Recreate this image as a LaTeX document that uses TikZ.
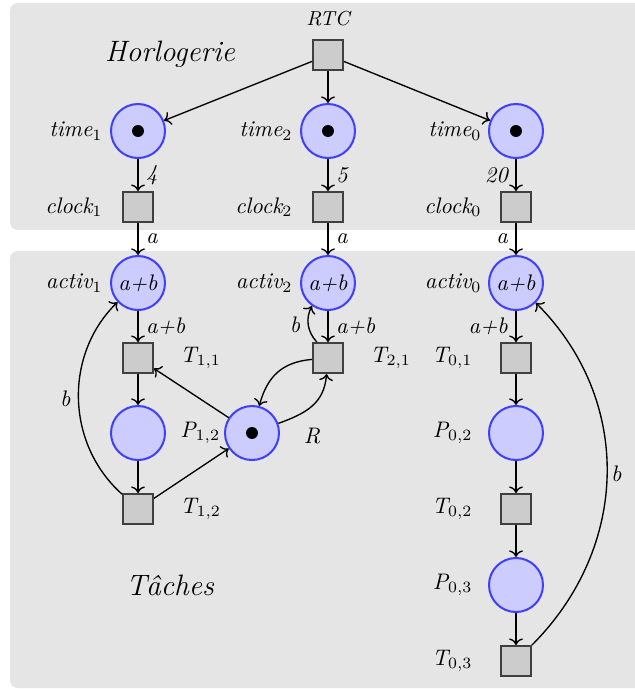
\documentclass[tikz,border=0pt]{standalone}
\usetikzlibrary{arrows.meta}
\begin{document}
\begin{tikzpicture}[x=0.4444pt,y=-0.4444pt,
  every node/.style={font=\itshape},
  place/.style={circle,draw=blue!75,fill=blue!20,line width=0.9pt,minimum size=24pt,inner sep=0pt},
  trans/.style={rectangle,draw=black!75,fill=black!20,line width=0.9pt,minimum size=13.3pt,inner sep=0pt},
  token/.style={circle,fill=black,minimum size=5.3pt,inner sep=0pt},
  arc/.style={->,semithick},
  panel/.style={fill=black!10,rounded corners=3.5pt},
  lblw/.style={anchor=east,inner sep=0pt},
  lble/.style={anchor=west,inner sep=0pt},
  title/.style={font=\fontsize{13.1}{15}\selectfont\itshape}
]
\useasboundingbox (0,0) rectangle (635,689);
\clip (0,0) rectangle (635,689);
\fill[panel] (10,3) rectangle (660,230);
\fill[panel] (10,251) rectangle (660,688);

\node[title] (horl) at (170,54) {Horlogerie};
\node[title] (taches) at (170,585) {Tâches};

% top
\node[trans] (rtc) at (328,55) {};
\node[font=\small\itshape] (rtcl) at (328,19) {RTC};

\node[place] (time1) at (138,131) {};
\node[place] (time2) at (328,131) {};
\node[place] (time0) at (516,131) {};
\node[token] (tk1) at (time1) {};
\node[token] (tk2) at (time2) {};
\node[token] (tk0) at (time0) {};
\node[lblw] (time1l) at (103,131) {time$_1$};
\node[lblw] (time2l) at (293,131) {time$_2$};
\node[lblw] (time0l) at (482,131) {time$_0$};

\node[trans] (clock1) at (138,207) {};
\node[trans] (clock2) at (328,207) {};
\node[trans] (clock0) at (516,207) {};
\node[lblw] (clock1l) at (103,207) {clock$_1$};
\node[lblw] (clock2l) at (293,207) {clock$_2$};
\node[lblw] (clock0l) at (482,207) {clock$_0$};

% bottom
\node[place] (activ1) at (138,283) {a+b};
\node[place] (activ2) at (328,283) {a+b};
\node[place] (activ0) at (516,283) {a+b};
\node[lblw] (activ1l) at (103,283) {activ$_1$};
\node[lblw] (activ2l) at (293,283) {activ$_2$};
\node[lblw] (activ0l) at (482,283) {activ$_0$};

\node[trans] (t11) at (138,358) {};
\node[place] (p12) at (138,433) {};
\node[trans] (t12) at (138,509) {};
\node[place] (r) at (252,433) {};
\node[token] (tkr) at (r) {};
\node[trans] (t21) at (328,358) {};
\node[lble] (t11l) at (180,358) {T$_{1,1}$};
\node[lble] (p12l) at (180,433) {P$_{1,2}$};
\node[lble] (t12l) at (180,509) {T$_{1,2}$};
\node[lble] (t21l) at (370,358) {T$_{2,1}$};
\node (rl) at (312,436) {R};

\node[trans] (t01) at (516,358) {};
\node[place] (p02) at (516,433) {};
\node[trans] (t02) at (516,509) {};
\node[place] (p03) at (516,585) {};
\node[trans] (t03) at (516,661) {};
\node[lblw] (t01l) at (473,358) {T$_{0,1}$};
\node[lblw] (p02l) at (473,433) {P$_{0,2}$};
\node[lblw] (t02l) at (473,509) {T$_{0,2}$};
\node[lblw] (p03l) at (473,585) {P$_{0,3}$};
\node[lblw] (t03l) at (473,661) {T$_{0,3}$};

% arcs
\draw[arc] (rtc) -- (time1);
\draw[arc] (rtc) -- (time2);
\draw[arc] (rtc) -- (time0);
\draw[arc] (time1) -- node[right] {4} (clock1);
\draw[arc] (time2) -- node[right] {5} (clock2);
\draw[arc] (time0) -- node[left] {20} (clock0);
\draw[arc] (clock1) -- node[right] {a} (activ1);
\draw[arc] (clock2) -- node[right] {a} (activ2);
\draw[arc] (clock0) -- node[left] {a} (activ0);
\draw[arc] (activ1) -- node[right] {a+b} (t11);
\draw[arc] (activ2) -- node[right] {a+b} (t21);
\draw[arc] (activ0) -- node[left] {a+b} (t01);

\draw[arc] (t11) -- (p12);
\draw[arc] (p12) -- (t12);
\draw[arc] (t12) -- (r);
\draw[arc] (r) -- (t11);
\draw[arc] (t12) to[bend left=47] node[left] {b} (activ1);
\draw[arc] (t21) to[out=185,in=75,looseness=1.1] (r);
\draw[arc] (r) to[out=20,in=265,looseness=1.1] (t21);
\draw[arc] (t21) to[bend left=35] node[left] {b} (activ2);

\draw[arc] (t01) -- (p02);
\draw[arc] (p02) -- (t02);
\draw[arc] (t02) -- (p03);
\draw[arc] (p03) -- (t03);
\draw[arc] (t03) to[out=45,in=-45,looseness=1.03] node[right,inner sep=1.5pt] {b} (activ0);
\end{tikzpicture}
\end{document}
